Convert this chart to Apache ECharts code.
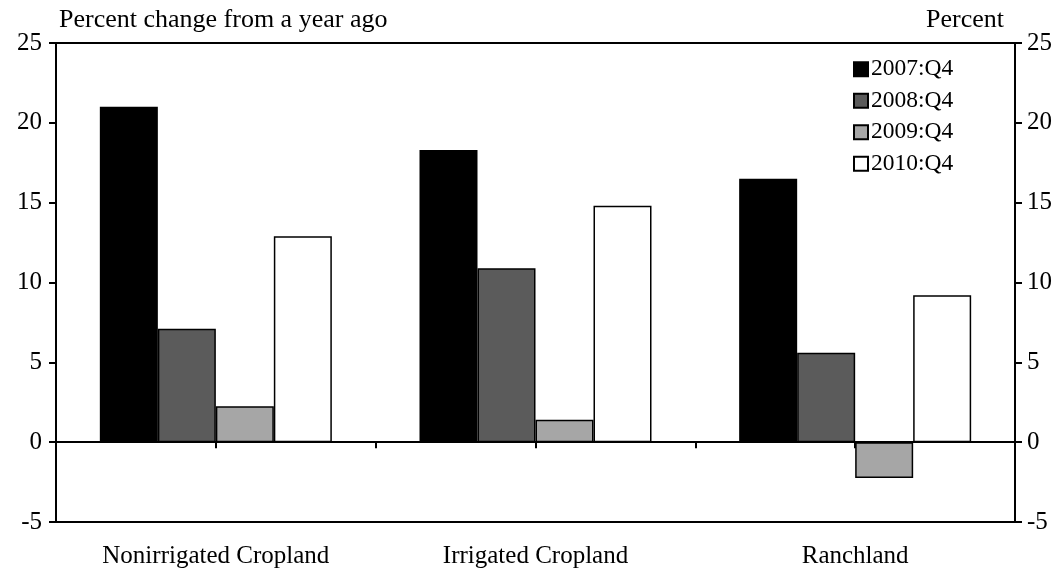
<!DOCTYPE html>
<html>
<head>
<meta charset="utf-8">
<script src="https://cdn.jsdelivr.net/npm/echarts@6/dist/echarts.min.js"></script>
<style>
  html, body { margin: 0; padding: 0; background: #fff; }
  #chart { width: 1062px; height: 577px; }
</style>
</head>
<body>
<div id="chart"></div>
<script>
/* data */
var CATEGORIES = ['Nonirrigated Cropland', 'Irrigated Cropland', 'Ranchland'];
var SERIES_NAMES = ['2007:Q4', '2008:Q4', '2009:Q4', '2010:Q4'];
var Q4_2007 = [21.0, 18.3, 16.5];
var Q4_2008 = [7.1, 10.9, 5.6];
var Q4_2009 = [2.25, 1.4, -2.25];
var Q4_2010 = [12.9, 14.8, 9.2];
var Y_MIN = -5, Y_MAX = 25, Y_STEP = 5;

var FONT = '"Liberation Serif", "Times New Roman", serif';
var COLORS = ['#000000', '#5b5b5b', '#a6a6a6', '#ffffff'];
var SERIES_DATA = [Q4_2007, Q4_2008, Q4_2009, Q4_2010];

/* y 轴：左右两侧一样 */
function makeYAxis(pos) {
  return {
    type: 'value',
    position: pos,
    min: Y_MIN,
    max: Y_MAX,
    interval: Y_STEP,
    axisLine: { show: true, lineStyle: { color: '#000', width: 2 } },
    axisTick: { show: true, length: 7, lineStyle: { color: '#000', width: 2 } },
    axisLabel: { color: '#000', fontFamily: FONT, fontSize: 25, margin: pos === 'left' ? 14 : 12 },
    splitLine: { show: false }
  };
}

var series = SERIES_DATA.map(function (d, i) {
  return {
    name: SERIES_NAMES[i],
    type: 'bar',
    xAxisIndex: 0,
    yAxisIndex: 0,
    data: d,
    barWidth: 58,
    barGap: '0%',
    itemStyle: { color: COLORS[i], borderColor: '#000', borderWidth: 1.5 },
    emphasis: { disabled: true }
  };
});

var option = {
  animation: false,
  backgroundColor: '#fff',
  title: [
    { text: 'Percent change from a year ago', left: 54, top: 2,
      textStyle: { fontFamily: FONT, fontSize: 26, fontWeight: 'normal', color: '#000' } },
    { text: 'Percent', right: 53, top: 2,
      textStyle: { fontFamily: FONT, fontSize: 26, fontWeight: 'normal', color: '#000' } }
  ],
  legend: {
    orient: 'vertical',
    left: 853,
    top: 57,
    padding: 0,
    icon: 'rect',
    itemWidth: 14,
    itemHeight: 14,
    itemGap: 7,
    data: SERIES_NAMES,
    textStyle: { fontFamily: FONT, fontSize: 23.5, color: '#000', padding: [0, 0, 0, -2], lineHeight: 24.5 }
  },
  grid: {
    left: 56, right: 47, top: 43, bottom: 55,
    show: true, borderColor: '#000', borderWidth: 2, backgroundColor: 'transparent'
  },
  xAxis: [
    {
      type: 'category',
      data: CATEGORIES,
      position: 'bottom',
      axisLine: { show: true, onZero: false, lineStyle: { color: '#000', width: 2 } },
      axisTick: { show: false },
      axisLabel: { color: '#000', fontFamily: FONT, fontSize: 25, margin: 22 },
      splitLine: { show: false }
    },
    {
      /* 只画零线和半格刻度 */
      type: 'category',
      data: ['', '', '', '', '', ''],
      position: 'top',
      axisLine: { show: true, onZero: true, onZeroAxisIndex: 0, lineStyle: { color: '#000', width: 2 } },
      axisTick: { show: true, inside: true, length: 6, lineStyle: { color: '#000', width: 2 } },
      axisLabel: { show: false },
      splitLine: { show: false }
    }
  ],
  yAxis: [makeYAxis('left'), makeYAxis('right')],
  series: series
};

var chart = echarts.init(document.getElementById('chart'));
chart.setOption(option);
</script>
</body>
</html>
